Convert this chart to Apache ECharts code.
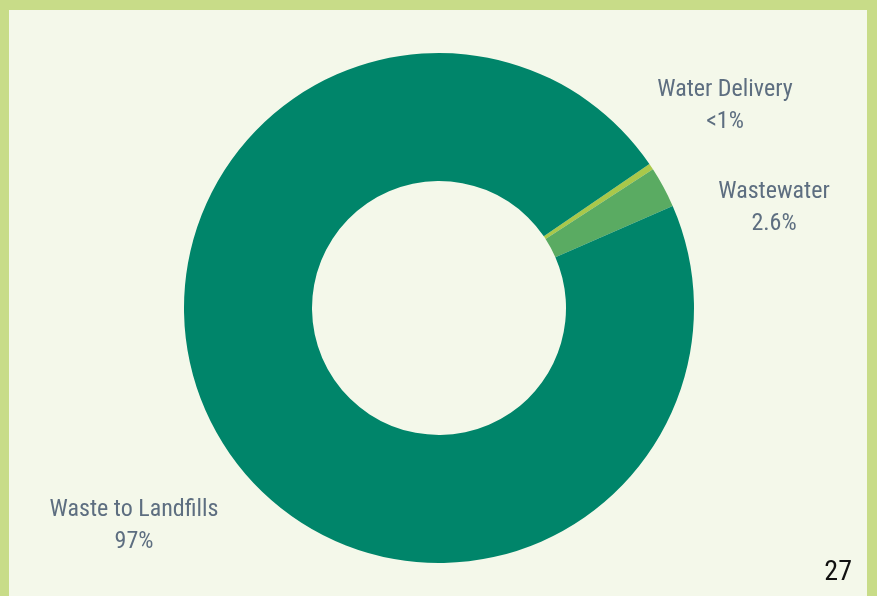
<!DOCTYPE html>
<html>
<head>
<meta charset="utf-8">
<script src="https://cdn.jsdelivr.net/npm/echarts@6/dist/echarts.min.js"></script>
<style>
  html, body { margin: 0; padding: 0; background: #f4f8ea; }
  #wrap {
    width: 877px; height: 596px; box-sizing: border-box;
    border-top: 10px solid #c8dc88; border-left: 9px solid #c8dc88; border-right: 10px solid #c8dc88;
    background: #f4f8ea;
  }
  #chart { width: 100%; height: 100%; }
</style>
</head>
<body>
<div id="wrap"><div id="chart"></div></div>
<script>
// categories and values (percent of total)
const categories = ['Water Delivery', 'Wastewater', 'Waste to Landfills'];
const values = [0.4, 2.6, 97];
const valueLabels = ['<1%', '2.6%', '97%'];
const colors = ['#a9c84a', '#5aab62', '#00856a'];
const pageNumber = '27';

// where each label sits (chart coords)
const labelSpots = [[716, 96], [765, 198], [125, 516]];

let myChart = echarts.init(document.getElementById('chart'));
myChart.setOption({
    animation: false,
    backgroundColor: '#f4f8ea',
    graphic: [{
        type: 'text',
        right: 15,
        bottom: 9,
        style: { text: pageNumber, fill: '#111', font: '28px "Roboto Condensed", Roboto, sans-serif' }
    }],
    series: [{
        type: 'pie',
        center: [430, 298],
        radius: [127, 255],
        startAngle: 34.4,
        clockwise: true,
        avoidLabelOverlap: false,
        data: categories.map(function (name, i) {
            return { name: name, value: values[i], itemStyle: { color: colors[i] } };
        }),
        label: {
            show: true,
            position: 'outside',
            formatter: function (p) {
                return p.name + '\n' + valueLabels[p.dataIndex];
            },
            color: '#5d6e80',
            fontFamily: '"Roboto Condensed", "Liberation Sans Narrow", Roboto, sans-serif',
            fontSize: 24,
            lineHeight: 32,
            align: 'center'
        },
        labelLine: { show: false },
        labelLayout: function (params) {
            const s = labelSpots[params.dataIndex];
            return { x: s[0], y: s[1], align: 'center', verticalAlign: 'middle' };
        },
        emphasis: { disabled: true }
    }]
});
</script>
</body>
</html>
